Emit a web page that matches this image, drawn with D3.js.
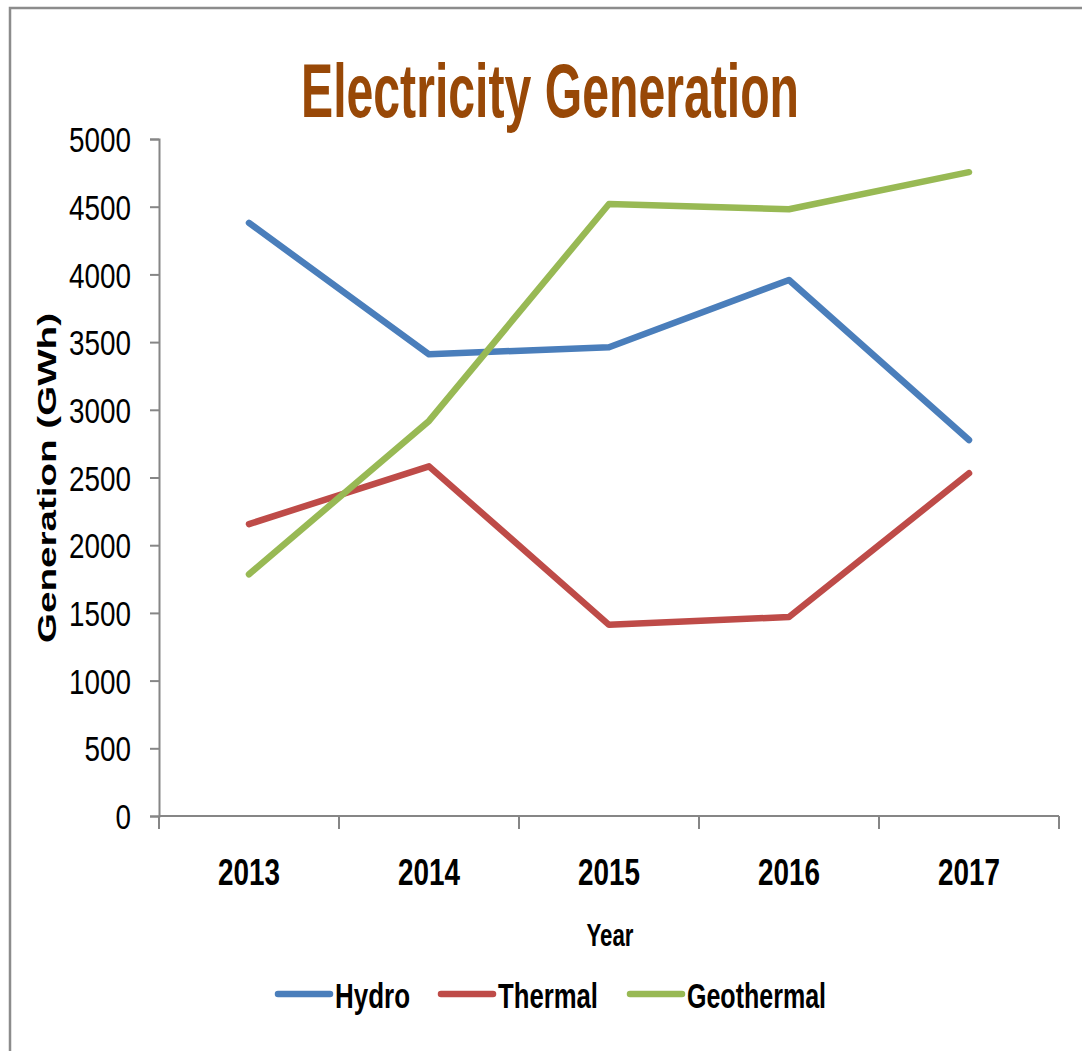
<!DOCTYPE html>
<meta charset="utf-8">
<style>
body { margin: 0; background: #fff; }
svg text { font-family: "Liberation Sans Narrow", "Liberation Sans", Arial, sans-serif; fill: #000; }
g.y.axis text { font-size: 35px; }
g.x.axis text { font-size: 36px; font-weight: bold; }
g.axis path, g.axis line { stroke: #868686; stroke-width: 2px; }
.series { fill: none; stroke-width: 6.5px; stroke-linejoin: round; stroke-linecap: round; }
</style>
<body>
<div id="chart"></div>
<script src="https://cdn.jsdelivr.net/npm/d3@7"></script>
<script>
// Electricity generation by source, GWh
var years = ["2013", "2014", "2015", "2016", "2017"];
var hydro = [4380, 3410, 3462, 3959, 2777];
var thermal = [2156, 2582, 1412, 1470, 2531];
var geothermal = [1785, 2918, 4520, 4481, 4755];
var yTicks = [0, 500, 1000, 1500, 2000, 2500, 3000, 3500, 4000, 4500, 5000];

var seriesNames = ["Hydro", "Thermal", "Geothermal"];
var seriesColors = ["#4a7ebb", "#be4b48", "#98b954"];
var seriesValues = [hydro, thermal, geothermal];

var outerWidth = 1082, outerHeight = 1051;
var margin = {top: 139, right: 23, bottom: 235, left: 159};
var innerWidth = outerWidth - margin.left - margin.right;
var innerHeight = outerHeight - margin.top - margin.bottom;

// the reference font is a condensed one, squeeze text to width
var digitWidth = 15.5;

var svg = d3.select("#chart").append("svg")
    .attr("width", outerWidth)
    .attr("height", outerHeight);

// outer frame (right and bottom edges fall outside the picture)
svg.append("path")
    .attr("d", "M10," + outerHeight + "V8H" + outerWidth)
    .attr("fill", "none")
    .attr("stroke", "#8c8c8c")
    .attr("stroke-width", 2.5);

// title
svg.append("text")
    .attr("x", 301).attr("y", 117)
    .attr("textLength", 498)
    .attr("lengthAdjust", "spacingAndGlyphs")
    .style("font-size", "76px")
    .style("font-weight", "bold")
    .style("fill", "#984807")
    .text("Electricity Generation");

var x = d3.scaleBand().domain(years).range([0, innerWidth]).padding(0);
var y = d3.scaleLinear().domain([0, 5000]).range([innerHeight, 0]);

var g = svg.append("g")
    .attr("transform", "translate(" + margin.left + "," + margin.top + ")");

// y axis
var yAxis = g.append("g").attr("class", "y axis")
    .call(d3.axisLeft(y).tickValues(yTicks).tickSize(9).tickPadding(19).tickFormat(d3.format("d")));
yAxis.selectAll("text")
    .attr("dy", "0.36em")
    .attr("lengthAdjust", "spacingAndGlyphs")
    .attr("textLength", function (d) { return String(d).length * digitWidth; });

// x axis with ticks on band edges
var xAxis = g.append("g").attr("class", "x axis")
    .attr("transform", "translate(0," + innerHeight + ")")
    .call(d3.axisBottom(x).tickSize(0).tickPadding(43));
xAxis.select(".domain").remove();
xAxis.selectAll("text")
    .attr("lengthAdjust", "spacingAndGlyphs")
    .attr("textLength", 62);
xAxis.append("path")
    .attr("d", "M0,0H" + innerWidth)
    .attr("fill", "none");
xAxis.selectAll("line.edge")
    .data(d3.range(years.length + 1))
    .enter().append("line")
    .attr("class", "edge")
    .attr("x1", function (i) { return i * x.bandwidth(); })
    .attr("x2", function (i) { return i * x.bandwidth(); })
    .attr("y1", 0).attr("y2", 13);

// axis titles
svg.append("text")
    .attr("transform", "translate(56,478) rotate(-90)")
    .attr("text-anchor", "middle")
    .attr("textLength", 330)
    .attr("lengthAdjust", "spacingAndGlyphs")
    .style("font-size", "25px")
    .style("font-weight", "bold")
    .text("Generation  (GWh)");

svg.append("text")
    .attr("x", 610).attr("y", 946)
    .attr("text-anchor", "middle")
    .attr("textLength", 47)
    .attr("lengthAdjust", "spacingAndGlyphs")
    .style("font-size", "31px")
    .style("font-weight", "bold")
    .text("Year");

// lines
var line = d3.line()
    .x(function (d, i) { return x(years[i]) + x.bandwidth() / 2; })
    .y(function (d) { return y(d); });

g.selectAll("path.series")
    .data(seriesValues)
    .enter().append("path")
    .attr("class", "series")
    .attr("stroke", function (d, i) { return seriesColors[i]; })
    .attr("d", line);

// legend
var legendX = [278, 441, 630];
var legendTextWidth = [75, 100, 139];
var legend = svg.selectAll("g.legend")
    .data(seriesNames)
    .enter().append("g")
    .attr("class", "legend")
    .attr("transform", function (d, i) { return "translate(" + legendX[i] + ",994)"; });
legend.append("line")
    .attr("x1", 0).attr("x2", 52)
    .attr("stroke", function (d, i) { return seriesColors[i]; })
    .attr("stroke-width", 6.5)
    .attr("stroke-linecap", "round");
legend.append("text")
    .attr("x", 57).attr("y", 14)
    .attr("textLength", function (d, i) { return legendTextWidth[i]; })
    .attr("lengthAdjust", "spacingAndGlyphs")
    .style("font-size", "35px")
    .style("font-weight", "bold")
    .text(function (d) { return d; });
</script>
</body>
